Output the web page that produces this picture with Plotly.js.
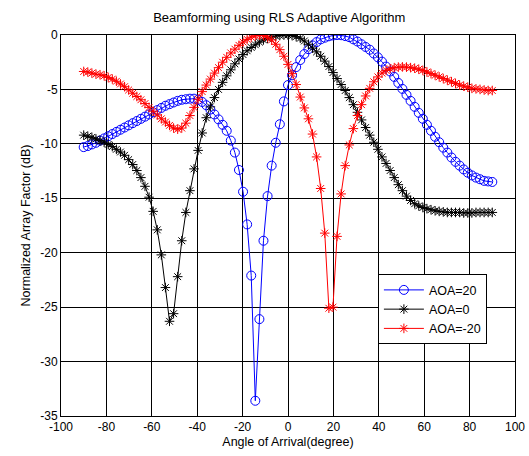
<!DOCTYPE html>
<html>
<head>
<meta charset="utf-8">
<script src="https://cdn.plot.ly/plotly-3.0.1.min.js"></script>
<style>html,body{margin:0;padding:0;background:#fff;}#chart{width:529px;height:456px;}</style>
</head>
<body>
<div id="chart"></div>
<script>
var angles = [-90,-88.2,-86.4,-84.6,-82.8,-81,-79.2,-77.4,-75.6,-73.8,-72,-70.2,-68.4,-66.6,-64.8,-63,-61.2,-59.4,-57.6,-55.8,-54,-52.2,-50.4,-48.6,-46.8,-45,-43.2,-41.4,-39.6,-37.8,-36,-34.2,-32.4,-30.6,-28.8,-27,-25.2,-23.4,-21.6,-19.8,-18,-16.2,-14.4,-12.6,-10.8,-9,-7.2,-5.4,-3.6,-1.8,0,1.8,3.6,5.4,7.2,9,10.8,12.6,14.4,16.2,18,19.8,21.6,23.4,25.2,27,28.8,30.6,32.4,34.2,36,37.8,39.6,41.4,43.2,45,46.8,48.6,50.4,52.2,54,55.8,57.6,59.4,61.2,63,64.8,66.6,68.4,70.2,72,73.8,75.6,77.4,79.2,81,82.8,84.6,86.4,88.2,90];

var aoa20 = [-10.3,-10.2,-10.05,-9.9,-9.7,-9.5,-9.3,-9.1,-8.9,-8.7,-8.5,-8.3,-8.1,-7.9,-7.7,-7.5,-7.3,-7.1,-6.9,-6.7,-6.5,-6.35,-6.2,-6.05,-5.95,-5.9,-5.85,-5.85,-5.95,-6.15,-6.45,-6.85,-7.3,-7.75,-8.25,-8.8,-9.7,-10.8,-12.4,-14.4,-17.4,-22.1,-33.6,-26.1,-18.9,-14.8,-12.0,-9.9,-8.2,-6.1,-4.6,-3.7,-2.95,-2.3,-1.75,-1.3,-0.95,-0.65,-0.4,-0.25,-0.12,-0.04,0,-0.02,-0.1,-0.2,-0.4,-0.6,-0.85,-1.1,-1.35,-1.7,-2.05,-2.45,-2.9,-3.35,-3.85,-4.4,-4.95,-5.5,-6.05,-6.6,-7.15,-7.7,-8.25,-8.8,-9.35,-9.85,-10.35,-10.8,-11.25,-11.65,-12.0,-12.35,-12.65,-12.9,-13.1,-13.25,-13.4,-13.45,-13.5];

var aoa0 = [-9.2,-9.3,-9.4,-9.55,-9.7,-9.85,-10.05,-10.25,-10.5,-10.75,-11.05,-11.45,-11.9,-12.45,-13.1,-13.9,-14.9,-16.2,-17.9,-20.2,-23.2,-26.3,-25.6,-22.2,-18.9,-16.3,-14.3,-12.3,-10.6,-9.0,-7.6,-6.6,-5.75,-5.0,-4.35,-3.75,-3.2,-2.65,-2.2,-1.8,-1.45,-1.15,-0.9,-0.65,-0.45,-0.3,-0.18,-0.1,-0.04,0,0,-0.05,-0.15,-0.3,-0.55,-0.85,-1.2,-1.55,-1.95,-2.4,-2.9,-3.45,-4.0,-4.55,-5.1,-5.75,-6.4,-7.1,-7.8,-8.5,-9.2,-9.85,-10.5,-11.2,-11.8,-12.45,-13.1,-13.75,-14.3,-14.8,-15.2,-15.5,-15.7,-15.85,-15.95,-16.05,-16.15,-16.2,-16.25,-16.3,-16.3,-16.3,-16.3,-16.35,-16.35,-16.35,-16.3,-16.3,-16.3,-16.3,-16.3];

var aoaM20 = [-3.35,-3.4,-3.5,-3.6,-3.65,-3.75,-3.9,-4.05,-4.25,-4.5,-4.75,-5.05,-5.35,-5.65,-5.95,-6.3,-6.65,-7.0,-7.35,-7.7,-8.0,-8.3,-8.55,-8.65,-8.55,-8.1,-7.4,-6.65,-5.9,-5.2,-4.6,-4.05,-3.5,-3.0,-2.5,-2.05,-1.65,-1.3,-0.95,-0.65,-0.4,-0.2,-0.07,-0.02,-0.05,-0.2,-0.45,-0.85,-1.35,-1.95,-2.7,-3.55,-4.55,-5.7,-6.7,-7.7,-9.1,-11.2,-14.1,-18.2,-25.1,-25.0,-18.5,-14.6,-12.0,-10.1,-8.6,-7.4,-6.4,-5.6,-4.9,-4.3,-3.85,-3.5,-3.25,-3.1,-3.0,-2.95,-2.93,-2.95,-3.0,-3.05,-3.15,-3.25,-3.4,-3.55,-3.7,-3.85,-4.0,-4.15,-4.3,-4.45,-4.6,-4.7,-4.8,-4.9,-4.95,-5.0,-5.05,-5.1,-5.1];

var seriesNames = ['AOA=20', 'AOA=0', 'AOA=-20'];
var xTicks = [-100,-80,-60,-40,-20,0,20,40,60,80,100];
var yTicks = [-35,-30,-25,-20,-15,-10,-5,0];

var font = 'Liberation Sans, Arial, sans-serif';

var traces = [
  {x: angles, y: aoa20, name: seriesNames[0], type: 'scatter', mode: 'lines+markers',
   line: {color: '#0000ff', width: 1},
   marker: {symbol: 'circle-open', size: 9, color: '#0000ff', line: {width: 1, color: '#0000ff'}}},
  {x: angles, y: aoa0, name: seriesNames[1], type: 'scatter', mode: 'lines+markers',
   line: {color: '#000000', width: 1},
   marker: {symbol: 'asterisk-open', size: 8, color: '#000000', line: {width: 1, color: '#000000'}}},
  {x: angles, y: aoaM20, name: seriesNames[2], type: 'scatter', mode: 'lines+markers',
   line: {color: '#ff0000', width: 1},
   marker: {symbol: 'asterisk-open', size: 8, color: '#ff0000', line: {width: 1, color: '#ff0000'}}}
];

var axisCommon = {
  showgrid: true, gridcolor: '#000000', gridwidth: 1,
  zeroline: false, showline: true, linecolor: '#000000', linewidth: 1,
  mirror: 'ticks', ticks: 'inside', ticklen: 4, tickcolor: '#000000',
  tickfont: {family: font, size: 12, color: '#000000'}
};

var layout = {
  width: 529, height: 456,
  margin: {l: 61, r: 14, t: 35, b: 40, pad: 0},
  paper_bgcolor: '#ffffff', plot_bgcolor: '#ffffff',
  font: {family: font, size: 12, color: '#000000'},
  title: {text: 'Beamforming using RLS Adaptive Algorithm', x: 0.528, xanchor: 'center', y: 0.962, yanchor: 'middle',
          font: {family: font, size: 13, color: '#000000'}},
  xaxis: Object.assign({}, axisCommon, {
    range: [-100, 100], tickvals: xTicks, ticktext: xTicks.map(String),
    title: {text: 'Angle of Arrival(degree)', standoff: 3, font: {family: font, size: 12.5, color: '#000000'}}
  }),
  yaxis: Object.assign({}, axisCommon, {
    range: [-35, 0], tickvals: yTicks, ticktext: yTicks.map(String),
    title: {text: 'Normalized Array Factor (dB)', standoff: 6, font: {family: font, size: 12.5, color: '#000000'}}
  }),
  showlegend: true,
  legend: {x: 0.698, y: 0.372, xanchor: 'left', yanchor: 'top',
           bgcolor: '#ffffff', bordercolor: '#000000', borderwidth: 1,
           font: {family: font, size: 12.5, color: '#000000'},
           itemwidth: 40, tracegroupgap: 0}
};

Plotly.newPlot('chart', traces, layout, {displayModeBar: false, staticPlot: true});
</script>
</body>
</html>
